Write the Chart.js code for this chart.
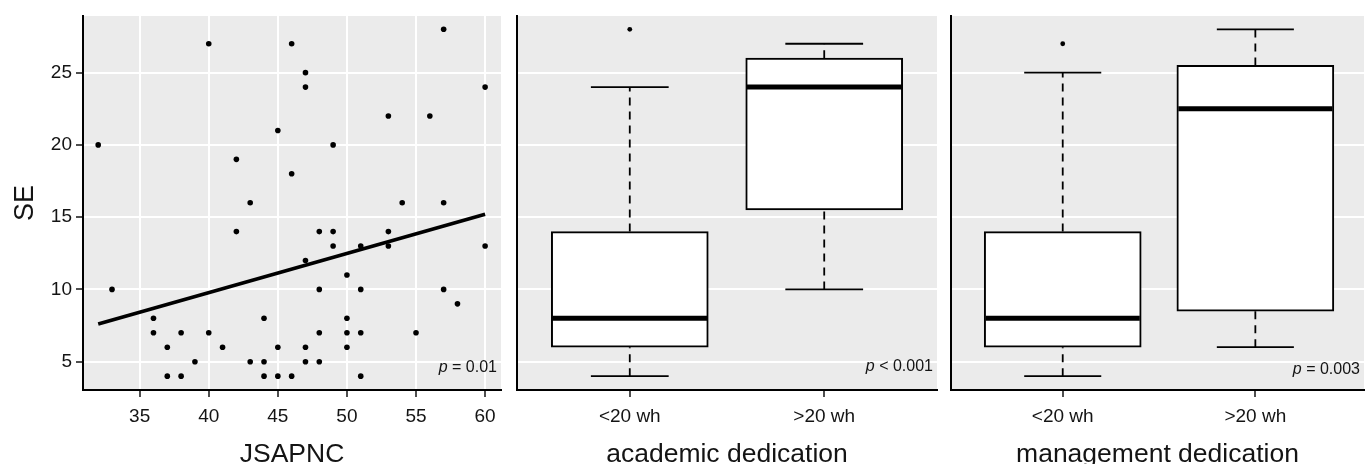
<!DOCTYPE html>
<html>
<head>
<meta charset="utf-8">
<script src="https://cdn.jsdelivr.net/npm/chart.js@4/dist/chart.umd.min.js"></script>
<style>
  html, body { margin: 0; padding: 0; background: #fff; }
  #wrap { position: relative; width: 1368px; height: 464px; overflow: hidden; }
  canvas { position: absolute; top: 0; }
</style>
</head>
<body>
<div id="wrap">
  <canvas id="c1" width="505" height="464" style="left:0px"></canvas>
  <canvas id="c2" width="437" height="464" style="left:505px"></canvas>
  <canvas id="c3" width="426" height="464" style="left:942px"></canvas>
</div>
<script>
// === data ===
var yTicks = [5, 10, 15, 20, 25];
var jsapncTicks = [35, 40, 45, 50, 55, 60];

// scatter: JSAPNC vs SE
var jsapnc = [32, 33, 36, 36, 37, 37, 38, 38, 39, 40, 40, 41, 42, 42, 43, 43, 44, 44, 44,
  45, 45, 45, 46, 46, 46, 47, 47, 47, 47, 47, 48, 48, 48, 48, 49, 49, 49, 50, 50, 50, 50,
  51, 51, 51, 51, 53, 53, 53, 54, 55, 56, 57, 57, 57, 58, 60, 60];
var se = [20, 10, 8, 7, 6, 4, 7, 4, 5, 27, 7, 6, 19, 14, 16, 5, 8, 5, 4,
  21, 6, 4, 27, 18, 4, 25, 24, 12, 6, 5, 14, 10, 7, 5, 20, 14, 13, 11, 8, 7, 6,
  13, 10, 7, 4, 22, 14, 13, 16, 7, 22, 28, 16, 10, 9, 24, 13];

// fitted line end points
var fitX = [32, 60];
var fitY = [7.6, 15.2];

// box plots
var groups = ['<20 wh', '>20 wh'];

var acadLow = [4, 10];
var acadQ1 = [6, 15.5];
var acadMed = [8, 24];
var acadQ3 = [14, 26];
var acadHigh = [24, 27];
var acadOut = [[28], []];

var mgmtLow = [4, 6];
var mgmtQ1 = [6, 8.5];
var mgmtMed = [8, 22.5];
var mgmtQ3 = [14, 25.5];
var mgmtHigh = [25, 28];
var mgmtOut = [[27], []];

Chart.defaults.font.family = "'Liberation Sans', Arial, sans-serif";
Chart.defaults.animation = false;

var Y_MIN = 3.04, Y_MAX = 28.92;
var TEXT = '#141414';

// gray panel, axis titles and p value
function makeDeco(xTitle, yTitle, pText, pDy) {
  return {
    id: 'deco',
    beforeDraw: function (chart) {
      var a = chart.chartArea, ctx = chart.ctx;
      ctx.save();
      ctx.fillStyle = '#ebebeb';
      ctx.fillRect(a.left, a.top, a.right - a.left, a.bottom - a.top);
      ctx.restore();
    },
    afterDraw: function (chart) {
      var a = chart.chartArea, ctx = chart.ctx;
      ctx.save();
      ctx.fillStyle = TEXT;
      ctx.font = "26.5px 'Liberation Sans', Arial, sans-serif";
      ctx.textAlign = 'center';
      ctx.textBaseline = 'alphabetic';
      ctx.fillText(xTitle, (a.left + a.right) / 2, 461.5);
      if (yTitle) {
        ctx.font = "27px 'Liberation Sans', Arial, sans-serif";
        ctx.translate(33, (a.top + a.bottom) / 2);
        ctx.rotate(-Math.PI / 2);
        ctx.fillText(yTitle, 0, 0);
        ctx.setTransform(1, 0, 0, 1, 0, 0);
      }
      // p label: italic p + rest
      ctx.textAlign = 'right';
      ctx.textBaseline = 'middle';
      ctx.font = "16px 'Liberation Sans', Arial, sans-serif";
      var x = a.right - 4, y = a.bottom - pDy;
      ctx.fillText(pText, x, y);
      var w = ctx.measureText(pText).width;
      ctx.font = "italic 16px 'Liberation Sans', Arial, sans-serif";
      ctx.fillText('p', x - w, y);
      ctx.restore();
    }
  };
}

function yScale(width, showLabels) {
  return {
    type: 'linear', min: Y_MIN, max: Y_MAX,
    afterBuildTicks: function (s) { s.ticks = yTicks.map(function (v) { return { value: v }; }); },
    afterFit: function (s) { s.width = width; },
    grid: { color: '#ffffff', lineWidth: 2, drawTicks: showLabels, tickLength: 7, tickColor: '#222222', tickWidth: 1.6 },
    border: { display: true, color: '#000000', width: 2 },
    ticks: { display: showLabels, color: TEXT, font: { size: 19 }, padding: 4 }
  };
}

function xScale(min, max, tickVals, labels, gridOn) {
  return {
    type: 'linear', min: min, max: max, offset: false,
    afterBuildTicks: function (s) { s.ticks = tickVals.map(function (v) { return { value: v }; }); },
    afterFit: function (s) { s.height = 74; },
    grid: { offset: false, drawOnChartArea: gridOn, color: '#ffffff', lineWidth: 2, tickLength: 7, tickColor: '#222222', tickWidth: 1.6 },
    border: { display: true, color: '#000000', width: 2 },
    ticks: {
      color: TEXT, font: { size: 19 }, padding: 8, maxRotation: 0,
      callback: function (v, i) { return labels ? labels[i] : v; }
    }
  };
}

function baseOptions(xs, ys, padRight) {
  return {
    responsive: false,
    events: [],
    layout: { padding: { top: 16, right: padRight, left: 0, bottom: 0 } },
    plugins: { legend: { display: false }, tooltip: { enabled: false } },
    scales: { x: xs, y: ys }
  };
}

// === 1. scatter with fitted line ===
new Chart(document.getElementById('c1'), {
  type: 'scatter',
  data: {
    datasets: [{
      data: jsapnc.map(function (x, i) { return { x: x, y: se[i] }; }),
      backgroundColor: '#000', borderWidth: 0, pointRadius: 2.8, order: 2
    }, {
      data: fitX.map(function (x, i) { return { x: x, y: fitY[i] }; }),
      showLine: true, borderColor: '#000', borderWidth: 3.6, pointRadius: 0, order: 1
    }]
  },
  options: baseOptions(xScale(30.9, 61.15, jsapncTicks, null, true), yScale(83, true), 2),
  plugins: [makeDeco('JSAPNC', 'SE', ' = 0.01', 22)]
});

// === 2./3. box plots ===
function boxDatasets(low, q1, med, q3, high, outs) {
  var sets = [{
    type: 'bar',
    data: groups.map(function (g, i) { return { x: i + 1, y: [q1[i], q3[i]] }; }),
    backgroundColor: '#ffffff', borderColor: '#000000', borderWidth: 2,
    borderSkipped: false, barThickness: 157, order: 5
  }];
  groups.forEach(function (g, i) {
    var c = i + 1;
    var seg = function (pts, w, dash, order) {
      sets.push({
        type: 'scatter', showLine: true, data: pts, borderColor: '#000000',
        borderWidth: w, borderDash: dash, pointRadius: 0, order: order
      });
    };
    seg([{ x: c, y: q3[i] }, { x: c, y: high[i] }], 1.8, [8, 6], 4);
    seg([{ x: c, y: low[i] }, { x: c, y: q1[i] }], 1.8, [8, 6], 4);
    seg([{ x: c - 0.2, y: high[i] }, { x: c + 0.2, y: high[i] }], 1.8, [], 4);
    seg([{ x: c - 0.2, y: low[i] }, { x: c + 0.2, y: low[i] }], 1.8, [], 4);
    seg([{ x: c - 0.4, y: med[i] }, { x: c + 0.4, y: med[i] }], 5, [], 1);
  });
  var pts = [];
  outs.forEach(function (list, i) {
    list.forEach(function (v) { pts.push({ x: i + 1, y: v }); });
  });
  sets.push({ type: 'scatter', data: pts, backgroundColor: '#000', borderWidth: 0, pointRadius: 2.4, order: 1 });
  return sets;
}

new Chart(document.getElementById('c2'), {
  type: 'scatter',
  data: { datasets: boxDatasets(acadLow, acadQ1, acadMed, acadQ3, acadHigh, acadOut) },
  options: baseOptions(xScale(0.42, 2.58, [1, 2], groups, false), yScale(12, false), 5),
  plugins: [makeDeco('academic dedication', null, ' < 0.001', 23)]
});

new Chart(document.getElementById('c3'), {
  type: 'scatter',
  data: { datasets: boxDatasets(mgmtLow, mgmtQ1, mgmtMed, mgmtQ3, mgmtHigh, mgmtOut) },
  options: baseOptions(xScale(0.42, 2.564, [1, 2], groups, false), yScale(9, false), 0),
  plugins: [makeDeco('management dedication', null, ' = 0.003', 20)]
});
</script>
</body>
</html>
